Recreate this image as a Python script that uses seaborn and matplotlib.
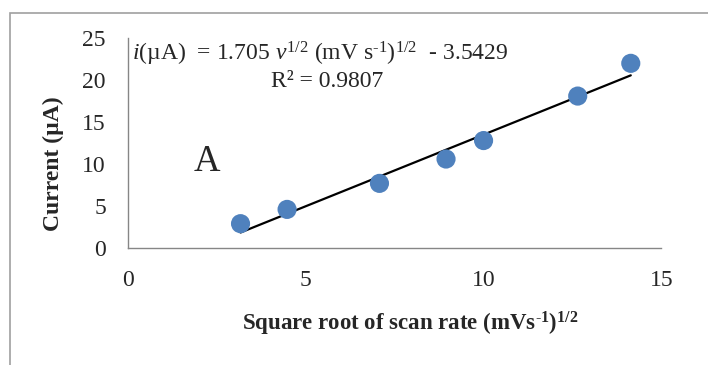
import matplotlib
matplotlib.use("Agg")
import matplotlib.pyplot as plt
import seaborn as sns
import numpy as np
import pandas as pd
from matplotlib.patches import Rectangle

sns.set_theme(style="white")
plt.rcParams['font.family'] = ['Liberation Serif', 'DejaVu Serif']
plt.rcParams['mathtext.fontset'] = 'custom'
plt.rcParams['mathtext.rm'] = 'Liberation Serif'
plt.rcParams['mathtext.it'] = 'Liberation Serif:italic'
plt.rcParams['mathtext.bf'] = 'Liberation Serif:bold'

# data
sqrt_scan_rate = [3.162, 4.472, 7.071, 8.944, 10.0, 12.649, 14.142]
current_uA = [2.9, 4.6, 7.7, 10.6, 12.8, 18.1, 22.0]
slope = 1.705
intercept = -3.5429
x_ticks = [0, 5, 10, 15]
y_ticks = [0, 5, 10, 15, 20, 25]

df = pd.DataFrame({"x": sqrt_scan_rate, "y": current_uA})
xfit = np.array([min(sqrt_scan_rate), max(sqrt_scan_rate)])
fit_df = pd.DataFrame({"x": xfit, "y": slope * xfit + intercept})

fig = plt.figure(figsize=(7.08, 3.65), dpi=100)
ax = fig.add_axes([0.181, 0.3205, 0.753, 0.575])

sns.lineplot(data=fit_df, x="x", y="y", ax=ax, color="black", linewidth=1.6, zorder=2)
sns.scatterplot(data=df, x="x", y="y", ax=ax, color="#4F81BD", s=190,
                edgecolor="none", zorder=3)

ax.set_xlim(0, 15)
ax.set_ylim(0, 25)
ax.set_xticks(x_ticks)
ax.set_yticks(y_ticks)
ax.tick_params(axis="both", labelsize=17, length=0)
ax.tick_params(axis="y", pad=16)
ax.tick_params(axis="x", pad=16)
for s in ["top", "right"]:
    ax.spines[s].set_visible(False)
for s in ["left", "bottom"]:
    ax.spines[s].set_color("#868686")
    ax.spines[s].set_linewidth(1.0)

ax.set_xlabel(r"Square root of scan rate (mVs$^{\mathbf{\text{-}1}}$)$^{\mathbf{1/2}}$",
              fontsize=16.5, fontweight="bold")
ax.set_ylabel("Current (µA)", fontsize=17, fontweight="bold")
ax.xaxis.set_label_coords(0.53, -0.295)
ax.yaxis.set_label_coords(-0.14, 0.40)
ax.yaxis.label.set_va("center")

ax.text(0.1, 23.1, r"$\mathit{i}$(µA)  = 1.705 $\mathit{v}^{\mathit{1/2}}$ (mV s$^{\text{-}1}$)$^{1/2}$  - 3.5429",
        fontsize=17, ha="left", va="center")
ax.text(5.6, 19.8, "R² = 0.9807", fontsize=17, ha="center", va="center")
ax.text(2.22, 10.3, "A", fontsize=26.5, ha="center", va="center")

fig.patches.append(Rectangle((10 / 708, -0.1), 1.2, 1 - 13 / 365 + 0.1,
                             transform=fig.transFigure, fill=False,
                             edgecolor="#A0A0A0", linewidth=1.2))

fig.savefig("out.png", dpi=100)
